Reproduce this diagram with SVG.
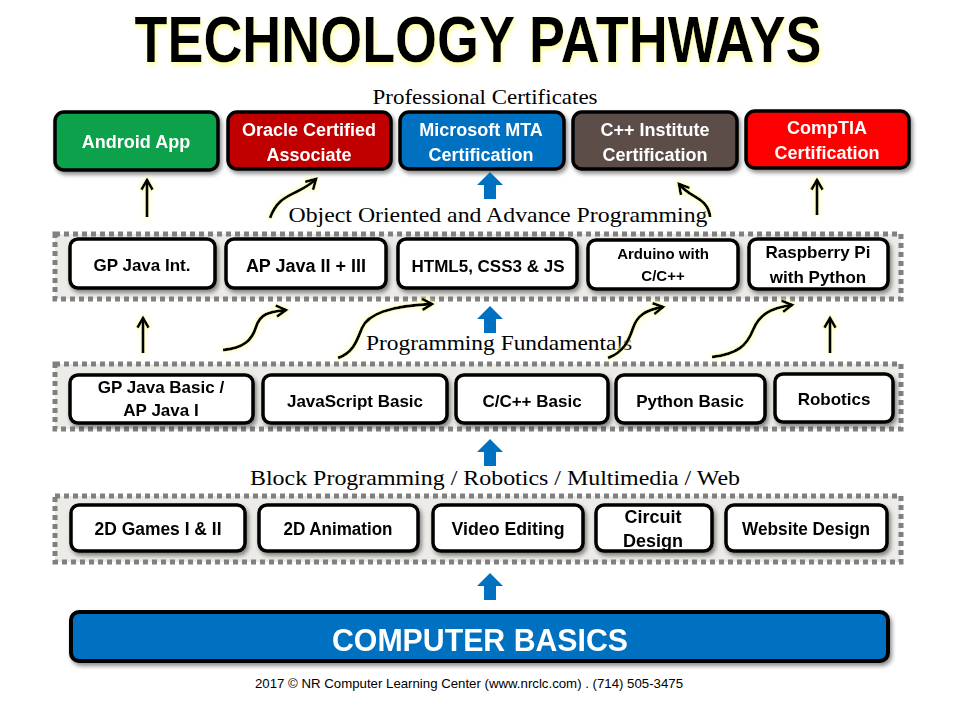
<svg xmlns="http://www.w3.org/2000/svg" width="960" height="720" viewBox="0 0 960 720">
<defs>
<style>
.title{font-family:"Liberation Sans",Arial,sans-serif;font-weight:bold;font-size:64px;fill:#000}
.serif{font-family:"Liberation Serif","Times New Roman",serif;font-size:21px;fill:#000}
.nt{font-family:"Liberation Sans",Arial,sans-serif;font-weight:bold;font-size:17px;fill:#000;text-anchor:middle}
.ct{font-family:"Liberation Sans",Arial,sans-serif;font-weight:bold;font-size:18px;fill:#fff;text-anchor:middle}
.node{fill:#fff;stroke:#000;stroke-width:3.5}
.cert{stroke:#000;stroke-width:3.5}
.band{fill:#EDEBE7;stroke:#808080;stroke-width:5;stroke-dasharray:5 4}
.arr{fill:none;stroke:#000;stroke-width:3}
.blue{fill:#0070C0}
.foot{font-family:"Liberation Sans",Arial,sans-serif;font-size:13px;fill:#000;text-anchor:middle}
</style>
<filter id="shadow" x="-10%" y="-20%" width="130%" height="160%">
<feGaussianBlur in="SourceAlpha" stdDeviation="2"/>
<feOffset dx="2" dy="3" result="b"/>
<feFlood flood-color="#000" flood-opacity="0.45"/>
<feComposite in2="b" operator="in" result="s"/>
<feMerge><feMergeNode in="s"/><feMergeNode in="SourceGraphic"/></feMerge>
</filter>
<filter id="glow" x="-30%" y="-30%" width="160%" height="160%">
<feMorphology in="SourceAlpha" operator="dilate" radius="1"/>
<feGaussianBlur stdDeviation="2" result="b"/>
<feFlood flood-color="#FFFFB0" flood-opacity="0.8"/>
<feComposite in2="b" operator="in" result="g"/>
<feMerge><feMergeNode in="g"/><feMergeNode in="SourceGraphic"/></feMerge>
</filter>
<filter id="tglow" x="-5%" y="-20%" width="110%" height="150%">
<feGaussianBlur in="SourceAlpha" stdDeviation="2"/>
<feOffset dx="1" dy="3" result="b"/>
<feFlood flood-color="#FFFF80" flood-opacity="0.8"/>
<feComposite in2="b" operator="in" result="g"/>
<feMerge><feMergeNode in="g"/><feMergeNode in="SourceGraphic"/></feMerge>
</filter>
<marker id="ah" viewBox="0 0 10 10" refX="8" refY="5" markerWidth="14" markerHeight="14" markerUnits="userSpaceOnUse" orient="auto">
<path d="M1,1 L8,5 L1,9" fill="none" stroke="#000" stroke-width="2"/>
</marker>
<path id="barrow" d="M-13,13 L0,0 L13,13 L6,13 L6,27 L-6,27 L-6,13 Z"/>
</defs>

<rect width="960" height="720" fill="#fff"/>

<text class="title" x="478" y="62" text-anchor="middle" textLength="687" lengthAdjust="spacingAndGlyphs" filter="url(#tglow)">TECHNOLOGY PATHWAYS</text>

<text class="serif" x="485" y="104" text-anchor="middle" textLength="225" lengthAdjust="spacingAndGlyphs">Professional Certificates</text>

<!-- certificates -->
<g id="cert-android" filter="url(#shadow)"><rect class="cert" x="55" y="112" width="163" height="58" rx="9" fill="#0EA14B"/><text class="ct" x="136" y="148" fill="#F0F5E0">Android App</text></g>
<g id="cert-oracle" filter="url(#shadow)"><rect class="cert" x="228" y="112" width="163" height="57" rx="9" fill="#C00000"/><text class="ct" x="309" y="136">Oracle Certified</text><text class="ct" x="309" y="161">Associate</text></g>
<g id="cert-mta" filter="url(#shadow)"><rect class="cert" x="400" y="112" width="164" height="57" rx="9" fill="#0070C0"/><text class="ct" x="481" y="136">Microsoft MTA</text><text class="ct" x="481" y="161">Certification</text></g>
<g id="cert-cpp" filter="url(#shadow)"><rect class="cert" x="573" y="112" width="164" height="57" rx="9" fill="#5B4E48"/><text class="ct" x="655" y="136">C++ Institute</text><text class="ct" x="655" y="161">Certification</text></g>
<g id="cert-comptia" filter="url(#shadow)"><rect class="cert" x="746" y="111" width="163" height="57" rx="9" fill="#FF0000"/><text class="ct" x="827" y="134">CompTIA</text><text class="ct" x="827" y="159">Certification</text></g>

<text class="serif" x="498" y="222" text-anchor="middle" textLength="419" lengthAdjust="spacingAndGlyphs">Object Oriented and Advance Programming</text>

<!-- bands -->
<rect class="band" x="55" y="234" width="846" height="65"/>
<rect class="band" x="55" y="364" width="846" height="65"/>
<rect class="band" x="55" y="496" width="846" height="66"/>

<!-- OOP row -->
<g id="n-gpjavaint" filter="url(#shadow)"><rect class="node" x="70" y="239" width="145" height="49" rx="8"/><text class="nt" x="142" y="271">GP Java Int.</text></g>
<g id="n-apjava23" filter="url(#shadow)"><rect class="node" x="226" y="239" width="160" height="49" rx="8"/><text class="nt" x="306" y="272" style="font-size:18px">AP Java II + III</text></g>
<g id="n-html5" filter="url(#shadow)"><rect class="node" x="398" y="239" width="179" height="49" rx="8"/><text class="nt" x="488" y="272">HTML5, CSS3 &amp; JS</text></g>
<g id="n-arduino" filter="url(#shadow)"><rect class="node" x="588" y="240" width="150" height="49" rx="8"/><text class="nt" x="663" y="259" style="font-size:15px">Arduino with</text><text class="nt" x="663" y="281" style="font-size:15px">C/C++</text></g>
<g id="n-raspberry" filter="url(#shadow)"><rect class="node" x="749" y="239" width="139" height="50" rx="8"/><text class="nt" x="818" y="258">Raspberry Pi</text><text class="nt" x="818" y="283">with Python</text></g>

<text class="serif" x="499" y="350" text-anchor="middle" textLength="266" lengthAdjust="spacingAndGlyphs">Programming Fundamentals</text>

<!-- fundamentals row -->
<g id="n-gpjavabasic" filter="url(#shadow)"><rect class="node" x="70" y="375" width="183" height="48" rx="8"/><text class="nt" x="161" y="393">GP Java Basic /</text><text class="nt" x="161" y="416">AP Java I</text></g>
<g id="n-jsbasic" filter="url(#shadow)"><rect class="node" x="263" y="375" width="184" height="48" rx="8"/><text class="nt" x="355" y="407">JavaScript Basic</text></g>
<g id="n-cbasic" filter="url(#shadow)"><rect class="node" x="456" y="375" width="152" height="48" rx="8"/><text class="nt" x="532" y="407">C/C++ Basic</text></g>
<g id="n-python" filter="url(#shadow)"><rect class="node" x="616" y="375" width="149" height="48" rx="8"/><text class="nt" x="690" y="407">Python Basic</text></g>
<g id="n-robotics" filter="url(#shadow)"><rect class="node" x="775" y="374" width="118" height="48" rx="8"/><text class="nt" x="834" y="405">Robotics</text></g>

<text class="serif" x="495" y="485" text-anchor="middle" textLength="490" lengthAdjust="spacingAndGlyphs">Block Programming / Robotics / Multimedia / Web</text>

<!-- block row -->
<g id="n-2dgames" filter="url(#shadow)"><rect class="node" x="71" y="505" width="174" height="46" rx="8"/><text class="nt" x="158" y="535" textLength="127" lengthAdjust="spacingAndGlyphs" style="font-size:18px">2D Games I &amp; II</text></g>
<g id="n-2danim" filter="url(#shadow)"><rect class="node" x="259" y="505" width="159" height="46" rx="8"/><text class="nt" x="338" y="535" textLength="109" lengthAdjust="spacingAndGlyphs" style="font-size:18px">2D Animation</text></g>
<g id="n-video" filter="url(#shadow)"><rect class="node" x="433" y="505" width="150" height="46" rx="8"/><text class="nt" x="508" y="535" textLength="113" lengthAdjust="spacingAndGlyphs" style="font-size:18px">Video Editing</text></g>
<g id="n-circuit" filter="url(#shadow)"><rect class="node" x="596" y="505" width="116" height="46" rx="8"/><text class="nt" x="653" y="523" style="font-size:18px">Circuit</text><text class="nt" x="653" y="547" style="font-size:18px">Design</text></g>
<g id="n-website" filter="url(#shadow)"><rect class="node" x="726" y="505" width="161" height="46" rx="8"/><text class="nt" x="806" y="535" textLength="128" lengthAdjust="spacingAndGlyphs" style="font-size:18px">Website Design</text></g>

<!-- computer basics -->
<g id="n-basics" filter="url(#shadow)"><rect x="71" y="612" width="817" height="49" rx="8" fill="#0070C0" stroke="#000" stroke-width="4"/><text x="480" y="651" text-anchor="middle" font-family="Liberation Sans,Arial,sans-serif" font-weight="bold" font-size="32" fill="#fff" textLength="296" lengthAdjust="spacingAndGlyphs">COMPUTER BASICS</text></g>

<text class="foot" x="469" y="688" textLength="428" lengthAdjust="spacingAndGlyphs">2017 © NR Computer Learning Center (www.nrclc.com) .  (714)  505-3475</text>

<!-- connectors -->
<g id="connectors">
<g filter="url(#glow)">
<path class="arr" d="M147,217 L147,180" marker-end="url(#ah)"/>
<path class="arr" d="M270,218 C276,202 284,198 294,193 S309,186 316,179" marker-end="url(#ah)"/>
<path class="arr" d="M710,217 C709,205 701,200 694,196 S684,190 679,184" marker-end="url(#ah)"/>
<path class="arr" d="M817,215 L817,180" marker-end="url(#ah)"/>
<path class="arr" d="M143,353 L143,318" marker-end="url(#ah)"/>
<path class="arr" d="M223,350 C244,348 252,340 256,327 S268,312 286,310" marker-end="url(#ah)"/>
<path class="arr" d="M338,358 C354,352 357,340 362,328 S385,306 432,304" marker-end="url(#ah)"/>
<path class="arr" d="M608,358 C624,352 629,340 633,328 S645,310 663,307" marker-end="url(#ah)"/>
<path class="arr" d="M712,357 C738,354 747,345 753,330 S770,308 792,305" marker-end="url(#ah)"/>
<path class="arr" d="M830,353 L830,318" marker-end="url(#ah)"/>
</g>
<use href="#barrow" class="blue" x="490" y="172"/>
<use href="#barrow" class="blue" x="490" y="306"/>
<use href="#barrow" class="blue" x="490" y="439"/>
<use href="#barrow" class="blue" x="490" y="573"/>
</g>
</svg>
